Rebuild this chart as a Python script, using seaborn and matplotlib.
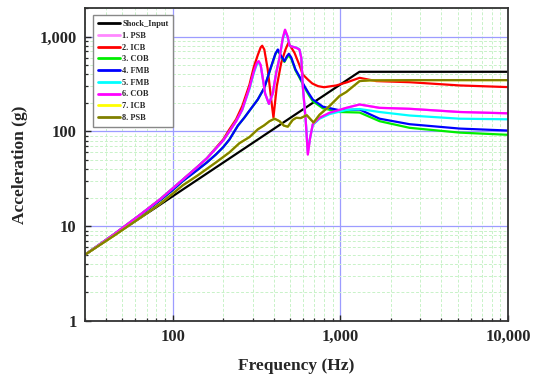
import numpy as np
import pandas as pd
import matplotlib
matplotlib.use("Agg")
import matplotlib.pyplot as plt
import seaborn as sns
from matplotlib.ticker import FuncFormatter, NullFormatter, LogLocator

# %% Data
shock_freq = [30, 1300, 10000]
shock_acc = [5.0, 425, 425]

icb_freq = [30, 45, 65, 85, 100, 115, 140, 160, 181, 200, 218, 239, 260, 287, 305, 322,
            335, 342, 352, 369, 387, 399, 418, 444, 471, 490, 533, 570, 597, 640, 680,
            735, 800, 946, 1100, 1303, 1637, 2588, 5150, 10000]
icb_acc = [5.0, 8.3, 13.5, 19.5, 25, 31, 42, 52, 67, 82, 105, 134, 185, 310, 480, 640,
           770, 800, 730, 450, 217, 140, 300, 528, 730, 860, 673, 500, 398, 352, 320,
           300, 292, 305, 330, 367, 339, 330, 305, 293]

cob6_freq = [30, 45, 65, 85, 100, 115, 140, 160, 181, 200, 218, 239, 260, 287, 305, 318,
             326, 335, 345, 356, 375, 395, 415, 434, 454, 468, 485, 498, 520, 546, 570,
             585, 597, 621, 640, 660, 685, 752, 862, 1085, 1303, 1714, 2588, 5150, 10000]
cob6_acc = [5.0, 8.3, 13.5, 19.5, 25, 31, 42, 52, 66, 80, 100, 128, 170, 288, 430, 530,
            550, 500, 360, 250, 195, 250, 420, 600, 970, 1180, 1000, 800, 780, 760, 730,
            597, 300, 134, 57, 85, 119, 139, 157, 177, 192, 177, 173, 160, 155]
psb1_acc = list(cob6_acc)
fmb5_acc = [5.0, 8.3, 13.5, 19.5, 25, 31, 42, 52, 66, 80, 100, 128, 168, 280, 415, 510,
            530, 490, 360, 250, 195, 250, 420, 600, 950, 1130, 990, 800, 780, 765, 735,
            597, 300, 134, 62, 85, 117, 136, 152, 168, 172, 160, 147, 136, 134]

fmb4_freq = [30, 45, 65, 85, 100, 115, 140, 160, 181, 200, 218, 245, 268, 287, 322, 352,
             387, 410, 424, 440, 464, 480, 493, 510, 540, 570, 611, 650, 685, 787, 989,
             1303, 1714, 2588, 5150, 10000]
fmb4_acc = [5.0, 8.2, 13.2, 19, 24, 30, 39, 47, 57, 68, 82, 115, 140, 165, 217, 288,
            486, 660, 730, 640, 550, 620, 658, 600, 450, 380, 300, 250, 217, 182, 167,
            170, 136, 119, 107, 102]
cob3_acc = [5.0, 8.2, 13.2, 19, 24, 30, 39, 47, 57, 68, 82, 115, 140, 165, 217, 288,
            480, 650, 720, 630, 540, 600, 630, 580, 440, 370, 290, 240, 208, 175, 160,
            158, 128, 109, 97, 92]

psb8_freq = [30, 45, 65, 85, 100, 115, 140, 181, 218, 250, 287, 322, 352, 378, 405, 434,
             460, 486, 520, 546, 580, 631, 692, 752, 862, 989, 1085, 1303, 1500, 2588,
             5150, 10000]
psb8_acc = [5.0, 8.0, 12.5, 17.5, 22, 27, 34, 47, 60, 75, 87, 105, 116, 128, 136, 128,
            115, 112, 132, 139, 138, 148, 124, 150, 185, 236, 260, 339, 345, 347, 347, 347]
icb7_acc = list(psb8_acc)

series = [
    ("Shock_Input", shock_freq, shock_acc, "#000000"),
    ("1. PSB", cob6_freq, psb1_acc, "#ff88ff"),
    ("2. ICB", icb_freq, icb_acc, "#ff0000"),
    ("3. COB", fmb4_freq, cob3_acc, "#00ee00"),
    ("4. FMB", fmb4_freq, fmb4_acc, "#0000ff"),
    ("5. FMB", cob6_freq, fmb5_acc, "#00ffff"),
    ("6. COB", cob6_freq, cob6_acc, "#ff00ff"),
    ("7. ICB", psb8_freq, icb7_acc, "#ffff00"),
    ("8. PSB", psb8_freq, psb8_acc, "#808000"),
]

frames = []
for name, f, a, _ in series:
    frames.append(pd.DataFrame({"freq": f, "acc": a, "series": name, "order": range(len(f))}))
df = pd.concat(frames, ignore_index=True)
palette = {name: c for name, _, _, c in series}
hue_order = [name for name, _, _, _ in series]

# %% Style
sns.set_style("ticks")
plt.rcParams["font.family"] = ["Liberation Serif", "DejaVu Serif"]
plt.rcParams["font.weight"] = "bold"
plt.rcParams["axes.labelweight"] = "bold"

fig = plt.figure(figsize=(5.41, 3.78), dpi=100)
ax = fig.add_axes([85 / 541, 1 - 321 / 378, 423 / 541, 313 / 378])

sns.lineplot(data=df, x="freq", y="acc", hue="series", hue_order=hue_order,
             palette=palette, estimator=None, sort=False, units="series",
             lw=1.6, ax=ax)

ax.set_xscale("log")
ax.set_yscale("log")
ax.set_xlim(30, 10000)
ax.set_ylim(1, 2000)

fmt = FuncFormatter(lambda v, _: f"{v:,.0f}")
ax.xaxis.set_major_formatter(fmt)
ax.yaxis.set_major_formatter(fmt)
ax.xaxis.set_minor_locator(LogLocator(base=10, subs=np.arange(2, 10)))
ax.yaxis.set_minor_locator(LogLocator(base=10, subs=np.arange(2, 10)))
ax.xaxis.set_minor_formatter(NullFormatter())
ax.yaxis.set_minor_formatter(NullFormatter())

ax.grid(which="major", color="#9c9cff", lw=0.9)
ax.grid(which="minor", color="#c8f2c8", lw=0.7, ls=(0, (3, 2)))
ax.set_axisbelow(True)

ax.tick_params(which="major", direction="in", length=4, width=1, labelsize=12, pad=6)
ax.tick_params(which="minor", direction="in", length=2.2, width=0.9)
for s in ax.spines.values():
    s.set_color("#333333")
    s.set_linewidth(1.3)

ax.set_xlabel("Frequency (Hz)", fontsize=12.5)
ax.set_ylabel("Acceleration (g)", fontsize=12.5)
ax.xaxis.set_label_coords(0.5, -0.118)
ax.yaxis.set_label_coords(-0.135, 0.5)

leg = ax.legend(loc="upper left", bbox_to_anchor=(8 / 423, 1 - 7 / 313), fontsize=6,
                frameon=True, fancybox=False, edgecolor="#888888", framealpha=1,
                handlelength=2.6, handletextpad=0.3, labelspacing=0.45,
                borderpad=0.6, borderaxespad=0)
leg.get_frame().set_linewidth(1.0)
for line in leg.get_lines():
    line.set_linewidth(2)

fig.savefig("out.png", dpi=100)
